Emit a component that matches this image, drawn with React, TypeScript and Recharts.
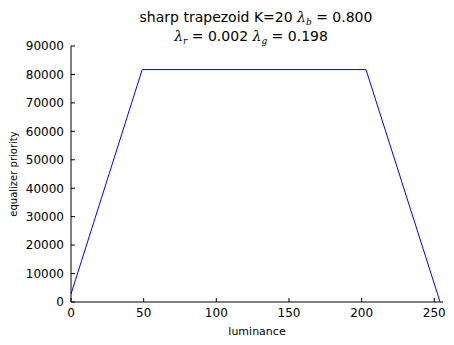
import React from "react";
import { LineChart, Line, XAxis, YAxis } from "recharts";

const luminance = [0, 49, 203, 254];
const priority = [2800, 81700, 81700, 0];
const xTicks = [0, 50, 100, 150, 200, 250];
const yTicks = [0, 10000, 20000, 30000, 40000, 50000, 60000, 70000, 80000, 90000];

const data = luminance.map((x, i) => ({ x, y: priority[i] }));

const FONT = "DejaVu Sans, sans-serif";
const SERIF = "DejaVu Serif, serif";
const TL = 4;

const BottomTick = (p: any) => {
  const { x, y, payload } = p;
  return (
    <g>
      <line x1={x} x2={x} y1={y - 6} y2={y - 6 - TL} stroke="#000" />
      <text x={x} y={y} dy="0.78em" textAnchor="middle" fontSize={12} fontFamily={FONT} fill="#000">
        {payload.value}
      </text>
    </g>
  );
};
const TopTick = (p: any) => {
  const { x, y } = p;
  return <line x1={x} x2={x} y1={y} y2={y + TL} stroke="#000" />;
};
const LeftTick = (p: any) => {
  const { x, y, payload } = p;
  return (
    <g>
      <line x1={x + 7} x2={x + 7 + TL} y1={y} y2={y} stroke="#000" />
      <text x={x} y={y} dy="0.36em" textAnchor="end" fontSize={12} fontFamily={FONT} fill="#000">
        {payload.value}
      </text>
    </g>
  );
};
const RightTick = (p: any) => {
  const { x, y } = p;
  return <line x1={x} x2={x - TL} y1={y} y2={y} stroke="#000" />;
};

export default function App() {
  return (
    <div style={{ position: "absolute", left: 0, top: 0, width: 454, height: 345, background: "#fff" }}>
      <LineChart
        width={454}
        height={345}
        data={data}
        margin={{ top: 46, right: 11, bottom: 0, left: 0 }}
      >
        <XAxis
          dataKey="x"
          type="number"
          domain={[0, 256]}
          ticks={xTicks}
          allowDataOverflow
          height={43}
          tickSize={0}
          tickMargin={6}
          tickLine={false}
          axisLine={{ stroke: "#000" }}
          tick={<BottomTick />}
          interval={0}
          label={{ value: "luminance", position: "insideBottom", offset: 10, fontSize: 11, fontFamily: FONT, fill: "#000" }}
        />
        <XAxis
          xAxisId="top"
          orientation="top"
          dataKey="x"
          type="number"
          domain={[0, 256]}
          ticks={xTicks}
          allowDataOverflow
          height={0}
          tickSize={0}
          tickMargin={0}
          tickLine={false}
          axisLine={{ stroke: "#000" }}
          tick={<TopTick />}
          interval={0}
        />
        <YAxis
          type="number"
          domain={[0, 90000]}
          ticks={yTicks}
          allowDataOverflow
          width={71}
          tickSize={0}
          tickMargin={7}
          tickLine={false}
          axisLine={{ stroke: "#000" }}
          tick={<LeftTick />}
          interval={0}
        />
        <YAxis
          yAxisId="right"
          orientation="right"
          type="number"
          domain={[0, 90000]}
          ticks={yTicks}
          allowDataOverflow
          width={0}
          tickSize={0}
          tickMargin={0}
          tickLine={false}
          axisLine={{ stroke: "#000" }}
          tick={<RightTick />}
          interval={0}
        />
        <Line
          dataKey="y"
          type="linear"
          stroke="#0000ff"
          strokeWidth={1}
          dot={false}
          isAnimationActive={false}
        />
      </LineChart>
      <svg
        width={454}
        height={345}
        style={{ position: "absolute", left: 0, top: 0, pointerEvents: "none" }}
      >
        <text x={256} y={22} textAnchor="middle" fontSize={14} fontFamily={FONT} fill="#000">
          sharp trapezoid K=20{" "}
          <tspan fontFamily={SERIF} fontStyle="italic">λ</tspan>
          <tspan fontFamily={SERIF} fontStyle="italic" fontSize={9} dy={3}>b</tspan>
          <tspan dy={-3}> = 0.800</tspan>
        </text>
        <text x={251} y={41} textAnchor="middle" fontSize={14} fontFamily={FONT} fill="#000">
          <tspan fontFamily={SERIF} fontStyle="italic">λ</tspan>
          <tspan fontFamily={SERIF} fontStyle="italic" fontSize={9} dy={3}>r</tspan>
          <tspan dy={-3}> = 0.002 </tspan>
          <tspan fontFamily={SERIF} fontStyle="italic">λ</tspan>
          <tspan fontFamily={SERIF} fontStyle="italic" fontSize={9} dy={3}>g</tspan>
          <tspan dy={-3}> = 0.198</tspan>
        </text>
        <text
          x={17}
          y={174}
          transform="rotate(-90 17 174)"
          textAnchor="middle"
          fontSize={10}
          fontFamily={FONT}
          fill="#000"
        >
          equalizer priority
        </text>
      </svg>
    </div>
  );
}
